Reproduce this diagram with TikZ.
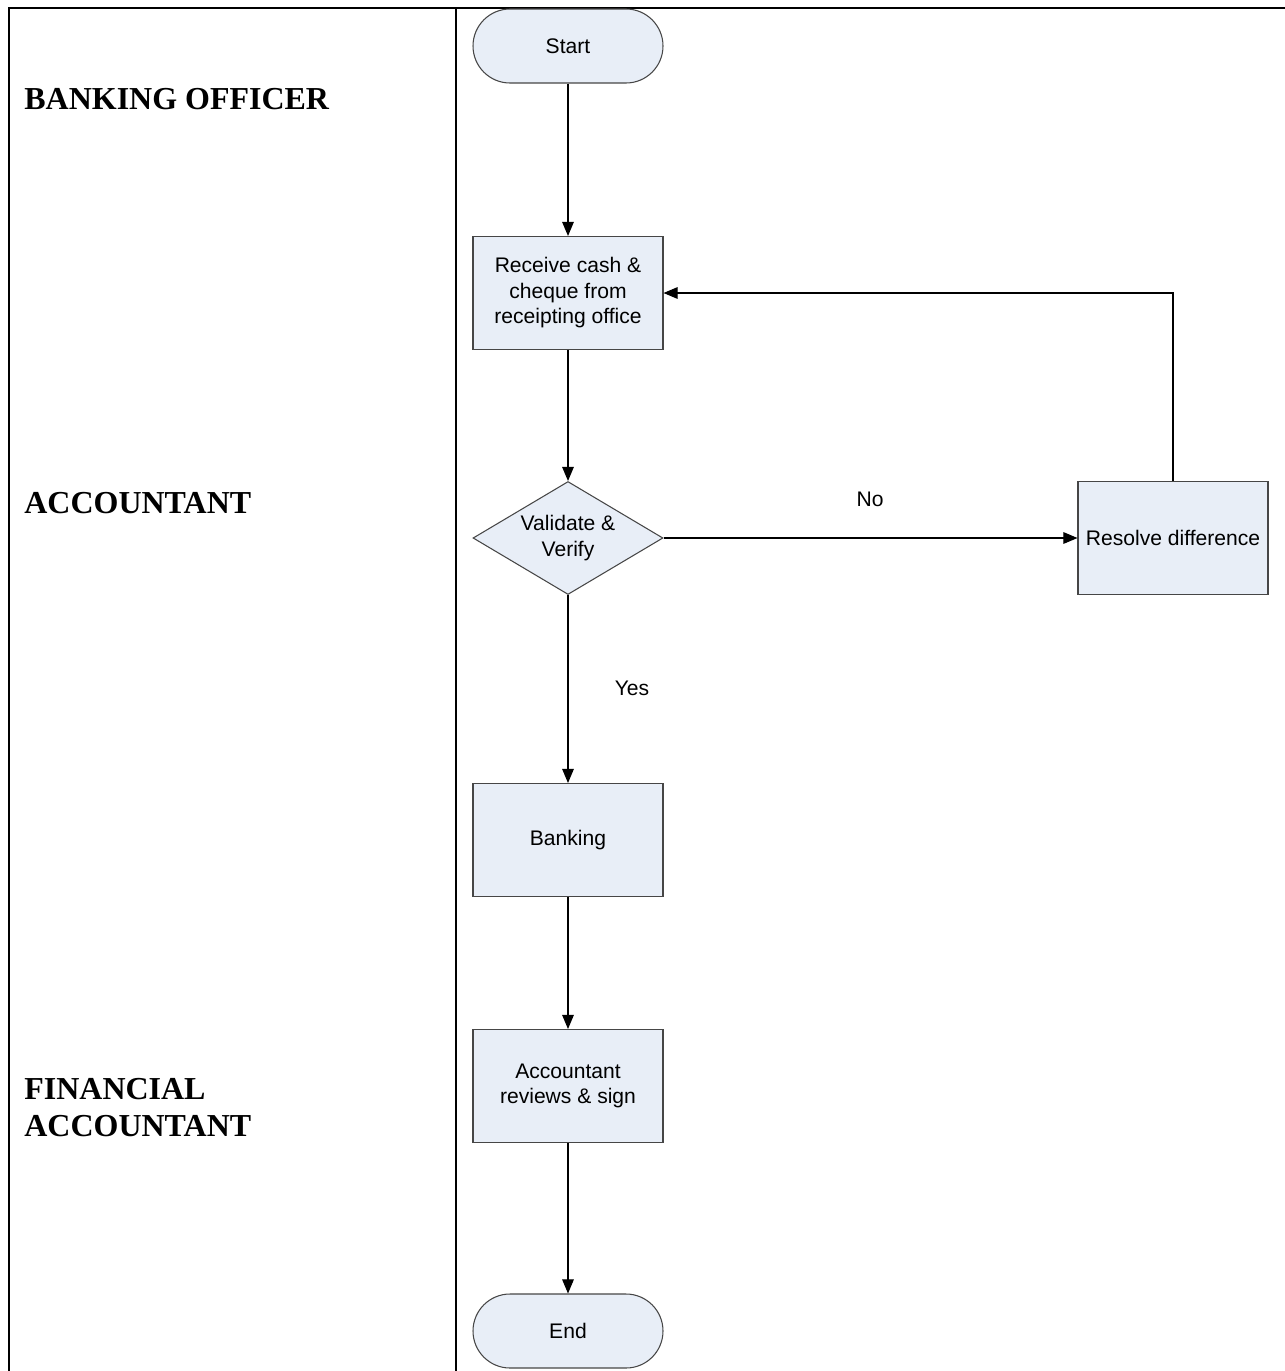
\documentclass[tikz,border=0pt]{standalone}
\usepackage{fontspec}
\setmainfont{Liberation Serif}
\newfontfamily\flowfont{Liberation Sans}
\usetikzlibrary{shapes.geometric,arrows.meta}
\definecolor{boxfill}{RGB}{232,238,247}
\definecolor{boxline}{RGB}{70,70,70}
\tikzset{
  every node/.style={font=\flowfont\fontsize{12}{14.5}\selectfont},
  procbox/.style={draw=boxline,fill=boxfill,line width=0.6pt,minimum width=3.8cm,minimum height=2.26cm,align=center,inner sep=2pt},
  termbox/.style={draw=boxline,fill=boxfill,line width=0.6pt,minimum width=3.8cm,minimum height=1.48cm,rounded corners=0.74cm},
  decbox/.style={draw=boxline,fill=boxfill,line width=0.6pt,diamond,aspect=1.68,minimum width=3.8cm,minimum height=2.26cm,inner sep=0pt,align=center},
  flow/.style={line width=0.6pt,-{Triangle[length=8pt,width=6.6pt]}},
  lane/.style={font=\rmfamily\bfseries\fontsize{18.2}{21}\selectfont,anchor=west,align=left,inner sep=0pt}
}
\begin{document}
\begin{tikzpicture}
\useasboundingbox (0,0) rectangle (25.7,-27.42);
% swimlane frame
\draw[line width=1.2pt] (0.18,-27.42) -- (0.18,-0.16) -- (25.7,-0.16);
\draw[line width=1.2pt] (9.12,-0.16) -- (9.12,-27.42);
\node[lane] (officer) at (0.48,-1.98) {BANKING OFFICER};
\node[lane] (acct) at (0.48,-10.06) {ACCOUNTANT};
\node[lane] (finacct) at (0.48,-22.16) {FINANCIAL\\ACCOUNTANT};
%
\node[termbox] (start) at (11.36,-0.92) {Start};
\node[procbox] (receive) at (11.36,-5.86) {Receive cash \&\\cheque from\\receipting office};
\node[decbox] (check) at (11.36,-10.76) {Validate \&\\Verify};
\node[procbox] (resolve) at (23.46,-10.76) {Resolve difference};
\node[procbox] (banking) at (11.36,-16.8) {Banking};
\node[procbox] (review) at (11.36,-21.72) {Accountant\\reviews \& sign};
\node[termbox] (end) at (11.36,-26.62) {End};
\node (no) at (17.4,-9.98) {No};
\node (yes) at (12.64,-13.76) {Yes};
%
\draw[flow] (start) -- (receive);
\draw[flow] (receive) -- (check);
\draw[flow] (check) -- (resolve);
\draw[flow] (resolve.north) |- (receive.east);
\draw[flow] (check) -- (banking);
\draw[flow] (banking) -- (review);
\draw[flow] (review) -- (end);
\end{tikzpicture}
\end{document}
